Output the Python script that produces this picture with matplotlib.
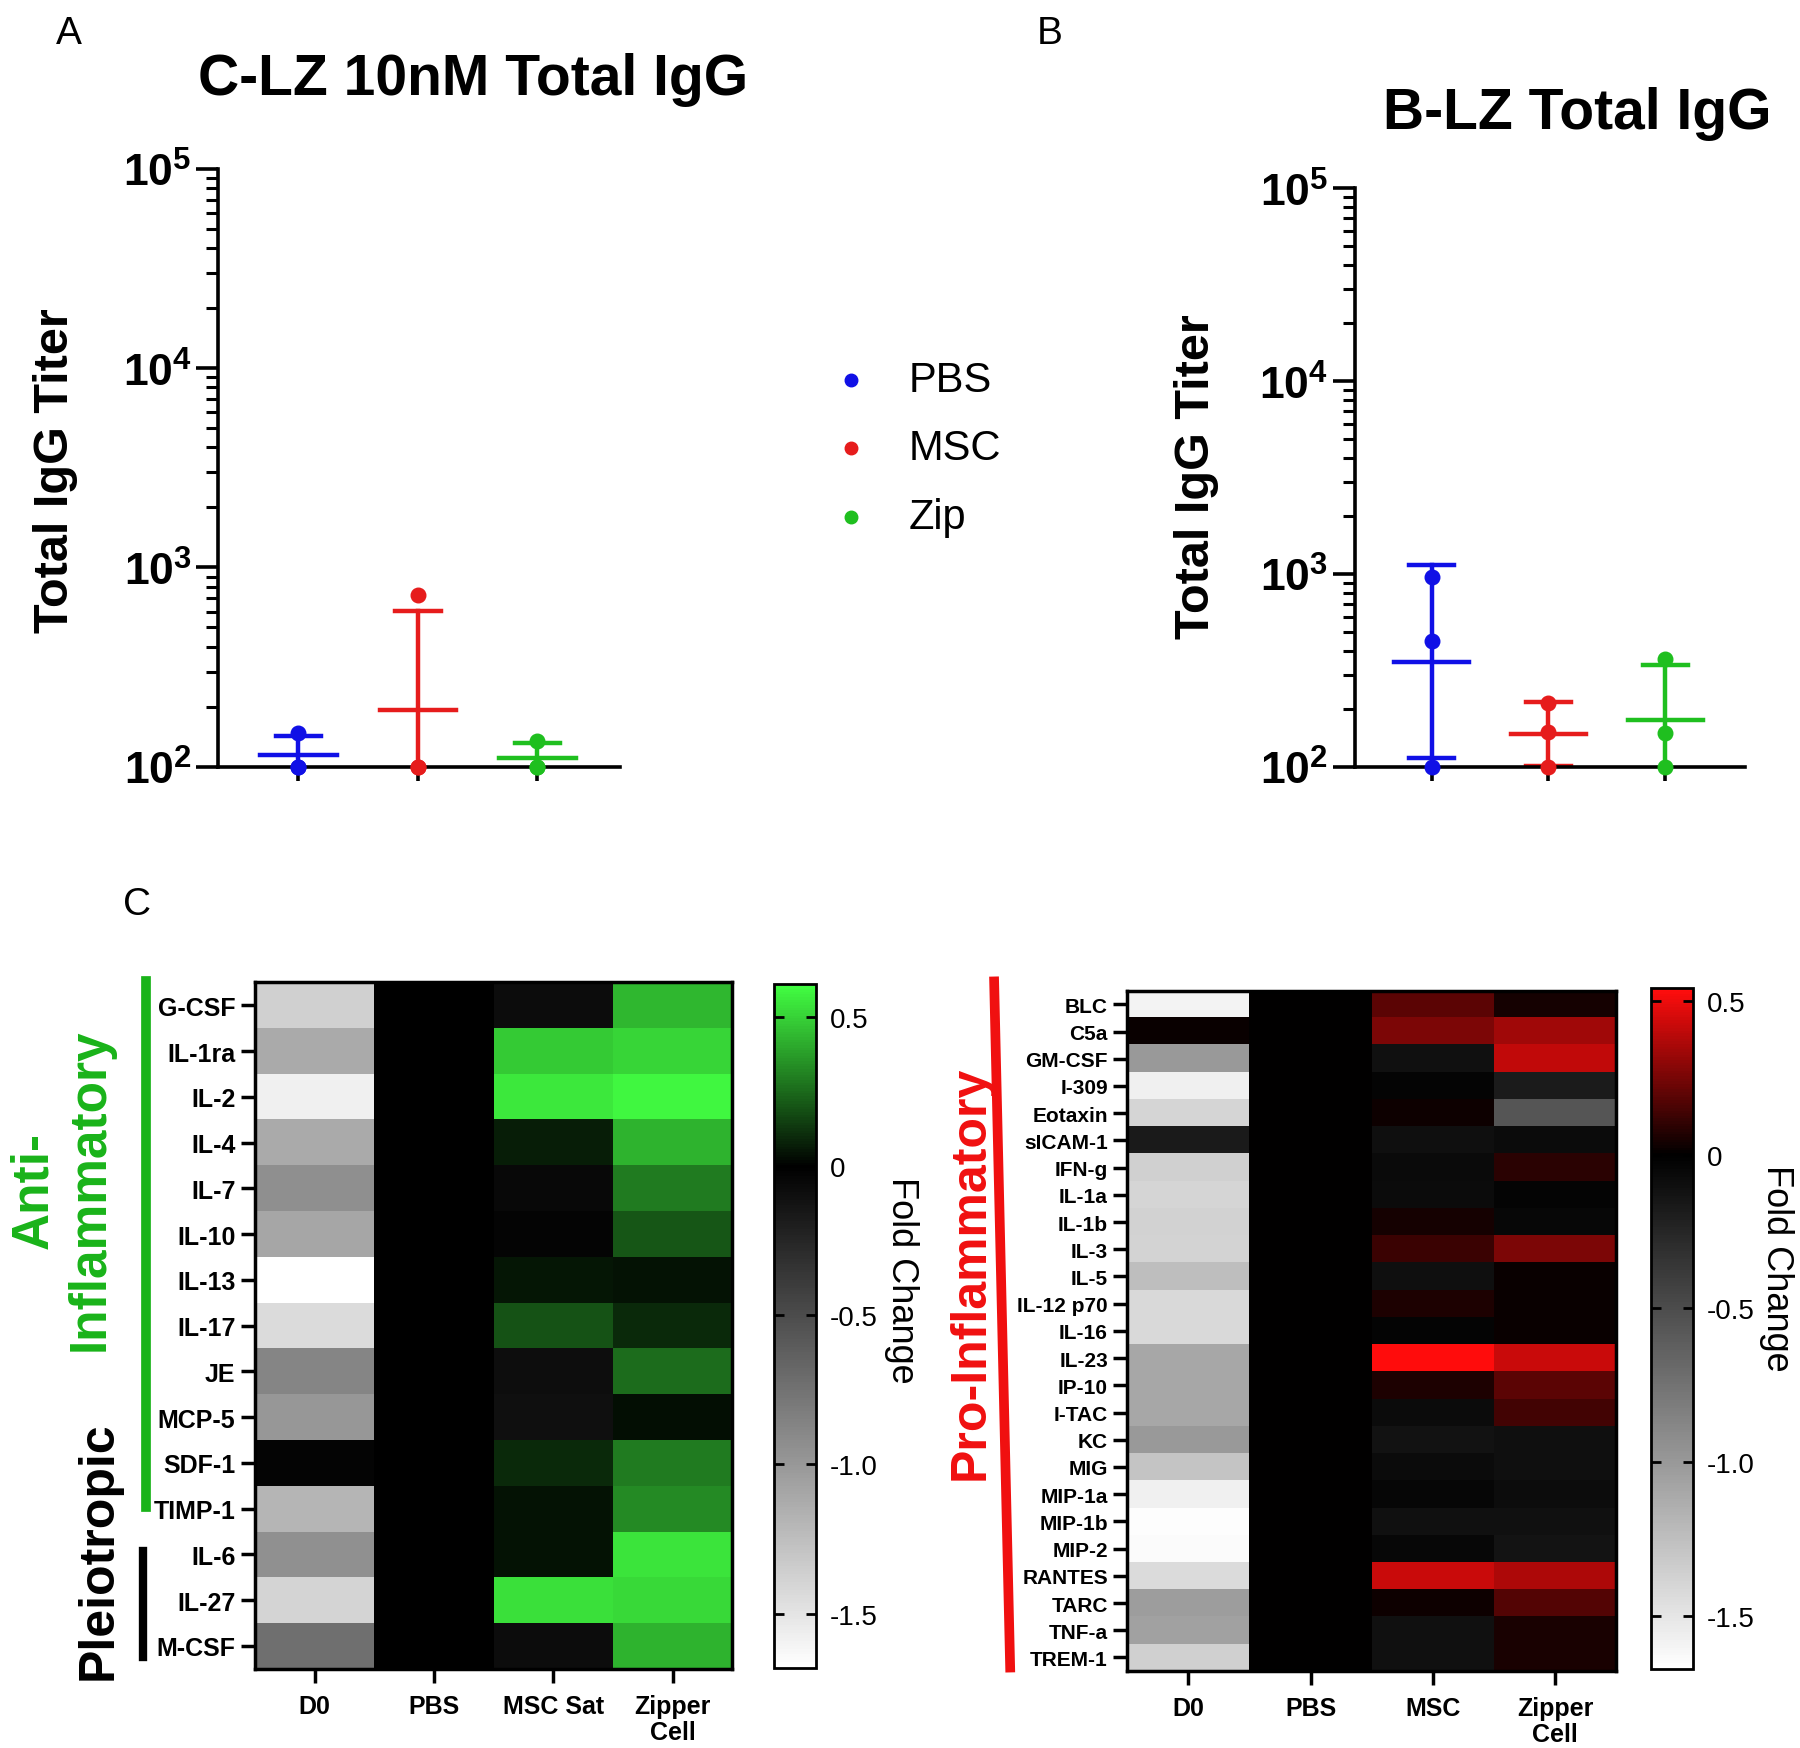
import matplotlib
matplotlib.use("Agg")
import matplotlib.pyplot as plt
import numpy as np
from matplotlib.colors import LinearSegmentedColormap
from matplotlib.lines import Line2D
from matplotlib.ticker import LogLocator, NullFormatter, FixedLocator, FixedFormatter

plt.rcParams['font.family'] = ['Liberation Sans', 'DejaVu Sans']
plt.rcParams['mathtext.fontset'] = 'custom'
plt.rcParams['mathtext.rm'] = 'Liberation Sans'
plt.rcParams['mathtext.bf'] = 'Liberation Sans:bold'

# ---- titer data (individual animals) ----
groups = ['PBS', 'MSC', 'Zip']
group_colors = ['#1010e6', '#e61c1c', '#1fbf1f']
clz_pbs = [100, 100, 148]
clz_msc = [100, 100, 725]
clz_zip = [100, 100, 135]
blz_pbs = [100, 452, 960]
blz_msc = [100, 152, 215]
blz_zip = [100, 150, 362]

# ---- cytokine heatmap data (fold change) ----
anti_rows = ['G-CSF', 'IL-1ra', 'IL-2', 'IL-4', 'IL-7', 'IL-10', 'IL-13', 'IL-17',
             'JE', 'MCP-5', 'SDF-1', 'TIMP-1', 'IL-6', 'IL-27', 'M-CSF']
anti_cols = ['D0', 'PBS', 'MSC Sat', 'Zipper\nCell']
anti_d0 = [-1.37, -1.12, -1.58, -1.12, -0.94, -1.09, -1.68, -1.44, -0.88, -1.00,
           -0.03, -1.19, -0.95, -1.40, -0.74]
anti_pbs = [0.0] * 15
anti_msc = [-0.08, 0.48, 0.55, 0.07, -0.06, -0.03, 0.05, 0.19, -0.09, -0.10,
            0.10, 0.04, 0.04, 0.53, -0.08]
anti_zip = [0.44, 0.51, 0.59, 0.43, 0.29, 0.20, 0.04, 0.10, 0.26, 0.03,
            0.29, 0.33, 0.54, 0.52, 0.43]

pro_rows = ['BLC', 'C5a', 'GM-CSF', 'I-309', 'Eotaxin', 'sICAM-1', 'IFN-g', 'IL-1a',
            'IL-1b', 'IL-3', 'IL-5', 'IL-12 p70', 'IL-16', 'IL-23', 'IP-10', 'I-TAC',
            'KC', 'MIG', 'MIP-1a', 'MIP-1b', 'MIP-2', 'RANTES', 'TARC', 'TNF-a', 'TREM-1']
pro_cols = ['D0', 'PBS', 'MSC', 'Zipper\nCell']
pro_d0 = [-1.59, 0.02, -1.00, -1.57, -1.40, -0.17, -1.36, -1.40, -1.37, -1.38,
          -1.24, -1.42, -1.42, -1.10, -1.10, -1.10, -1.00, -1.29, -1.57, -1.66,
          -1.64, -1.43, -1.03, -1.05, -1.36]
pro_pbs = [0.0] * 25
pro_msc = [0.19, 0.26, -0.11, -0.03, 0.03, -0.10, -0.07, -0.08, 0.04, 0.12,
           -0.10, 0.06, -0.03, 0.54, 0.06, -0.08, -0.12, -0.08, -0.04, -0.11,
           -0.05, 0.42, 0.03, -0.11, -0.11]
pro_zip = [0.04, 0.34, 0.41, -0.18, -0.56, -0.08, 0.09, -0.03, -0.05, 0.26,
           0.02, 0.02, 0.02, 0.42, 0.19, 0.14, -0.10, -0.10, -0.09, -0.11,
           -0.13, 0.36, 0.17, 0.05, 0.05]

fig = plt.figure(figsize=(18, 17.49), dpi=100)


def titer_panel(ax, data, xlim):
    for i, (vals, c) in enumerate(zip(data, group_colors)):
        logs = np.log10(vals)
        gm = 10 ** logs.mean()
        gsd = 10 ** logs.std(ddof=1)
        ax.plot([i, i], [gm / gsd, gm * gsd], color=c, lw=3.2, zorder=2)
        ax.plot([i - 0.32, i + 0.32], [gm, gm], color=c, lw=3.2, zorder=2)
        ax.plot([i - 0.19, i + 0.19], [gm * gsd] * 2, color=c, lw=3.2, zorder=2)
        ax.plot([i - 0.19, i + 0.19], [gm / gsd] * 2, color=c, lw=3.2, zorder=2)
        ax.scatter([i] * len(vals), vals, s=110, color=c, zorder=3, clip_on=False)
    ax.set_yscale('log')
    ax.set_ylim(100, 1e5)
    ax.set_xlim(*xlim)
    ax.set_xticks([0, 1, 2])
    ax.yaxis.set_major_locator(FixedLocator([1e2, 1e3, 1e4, 1e5]))
    ax.yaxis.set_major_formatter(FixedFormatter([r'$\mathbf{10^{2}}$', r'$\mathbf{10^{3}}$',
                                                 r'$\mathbf{10^{4}}$', r'$\mathbf{10^{5}}$']))
    ax.yaxis.set_minor_locator(LogLocator(subs=np.arange(2, 10)))
    ax.yaxis.set_minor_formatter(NullFormatter())
    ax.tick_params(axis='y', which='major', length=16, width=2.6, labelsize=32, pad=3)
    ax.tick_params(axis='y', which='minor', length=9, width=2.2)
    ax.tick_params(axis='x', length=10, width=2.6, labelbottom=False)
    for s in ['top', 'right']:
        ax.spines[s].set_visible(False)
    for s in ['left', 'bottom']:
        ax.spines[s].set_linewidth(2.6)


axA = fig.add_axes([0.1212, 0.561, 0.2232, 0.3419])
titer_panel(axA, [clz_pbs, clz_msc, clz_zip], (-0.67, 2.69))
axB = fig.add_axes([0.7526, 0.561, 0.2168, 0.3307])
titer_panel(axB, [blz_pbs, blz_msc, blz_zip], (-0.657, 2.68))

fig.text(0.263, 0.9455, 'C-LZ 10nM Total IgG', ha='center', va='baseline',
         fontsize=41, fontweight='bold')
fig.text(0.876, 0.9265, 'B-LZ Total IgG', ha='center', va='baseline',
         fontsize=41, fontweight='bold')
fig.text(0.0306, 0.731, 'Total IgG Titer', rotation=90, ha='center', va='center',
         fontsize=35, fontweight='bold')
fig.text(0.6645, 0.7277, 'Total IgG Titer', rotation=90, ha='center', va='center',
         fontsize=35, fontweight='bold')

# legend
for g, c, y in zip(groups, group_colors, [0.782, 0.743, 0.704]):
    fig.add_artist(Line2D([0.473], [y], marker='o', ms=9, color=c, lw=0,
                          transform=fig.transFigure))
    fig.text(0.505, y, g, ha='left', va='center', fontsize=30)

# panel letters
fig.text(0.038, 0.975, 'A', ha='center', va='baseline', fontsize=28)
fig.text(0.583, 0.975, 'B', ha='center', va='baseline', fontsize=28)
fig.text(0.076, 0.477, 'C', ha='center', va='baseline', fontsize=28)


def fold_cmap(vmin, vmax, top):
    f0 = -vmin / (vmax - vmin)
    return LinearSegmentedColormap.from_list('fc', [(0, 'white'), (f0, 'black'), (1, top)])


def heatmap(ax, cax, mat, rows, cols, vmin, vmax, top, ysize, cb_label_x, cb_label_y):
    im = ax.imshow(mat, cmap=fold_cmap(vmin, vmax, top), vmin=vmin, vmax=vmax,
                   aspect='auto', interpolation='nearest')
    ax.set_yticks(range(len(rows)))
    ax.set_yticklabels(rows, fontsize=ysize, fontweight='bold')
    ax.set_xticks(range(len(cols)))
    ax.set_xticklabels(cols, fontsize=18, fontweight='bold', linespacing=1.1)
    ax.tick_params(axis='both', length=10, width=2.5, pad=4)
    ax.tick_params(axis='x', pad=8)
    for s in ax.spines.values():
        s.set_linewidth(2.5)
    cb = fig.colorbar(im, cax=cax)
    cb.set_ticks([0.5, 0, -0.5, -1.0, -1.5])
    cb.set_ticklabels(['0.5', '0', '-0.5', '-1.0', '-1.5'])
    cb.outline.set_linewidth(2)
    cax.tick_params(left=True, right=True, direction='in', length=7, width=2,
                    labelsize=20, pad=10)
    fig.text(cb_label_x, cb_label_y, 'Fold Change', rotation=270, ha='center',
             va='center', fontsize=26)


anti_mat = np.column_stack([anti_d0, anti_pbs, anti_msc, anti_zip])
pro_mat = np.column_stack([pro_d0, pro_pbs, pro_msc, pro_zip])

axL = fig.add_axes([0.1416, 0.0453, 0.2653, 0.3924])
caxL = fig.add_axes([0.4298, 0.046, 0.0236, 0.391])
heatmap(axL, caxL, anti_mat, anti_rows, anti_cols, -1.68, 0.61, (0.26, 1.0, 0.26), 18,
        0.5006, 0.268)

axR = fig.add_axes([0.6263, 0.044, 0.2717, 0.389])
caxR = fig.add_axes([0.9171, 0.0453, 0.0236, 0.3891])
heatmap(axR, caxR, pro_mat, pro_rows, pro_cols, -1.67, 0.54, (1.0, 0.05, 0.05), 15,
        0.987, 0.275)

# group annotations
green_ann = '#19b319'
fig.add_artist(Line2D([0.081, 0.081], [0.4383, 0.1378], color=green_ann, lw=7,
                      transform=fig.transFigure))
fig.add_artist(Line2D([0.0797, 0.0797], [0.1129, 0.0518], color='black', lw=6,
                      transform=fig.transFigure))
fig.add_artist(Line2D([0.5523, 0.5612], [0.4383, 0.046], color='#f01010', lw=7,
                      transform=fig.transFigure))
fig.text(0.0344, 0.3196, 'Anti-\nInflammatory', rotation=90, ha='center', va='center',
         multialignment='center', color=green_ann, fontsize=37, fontweight='bold')
fig.text(0.0548, 0.1135, 'Pleiotropic', rotation=90, ha='center', va='center',
         color='black', fontsize=36, fontweight='bold')
fig.text(0.539, 0.272, 'Pro-Inflammatory', rotation=90, ha='center', va='center',
         color='#f01010', fontsize=36, fontweight='bold')

fig.savefig('out.png', dpi=100)
